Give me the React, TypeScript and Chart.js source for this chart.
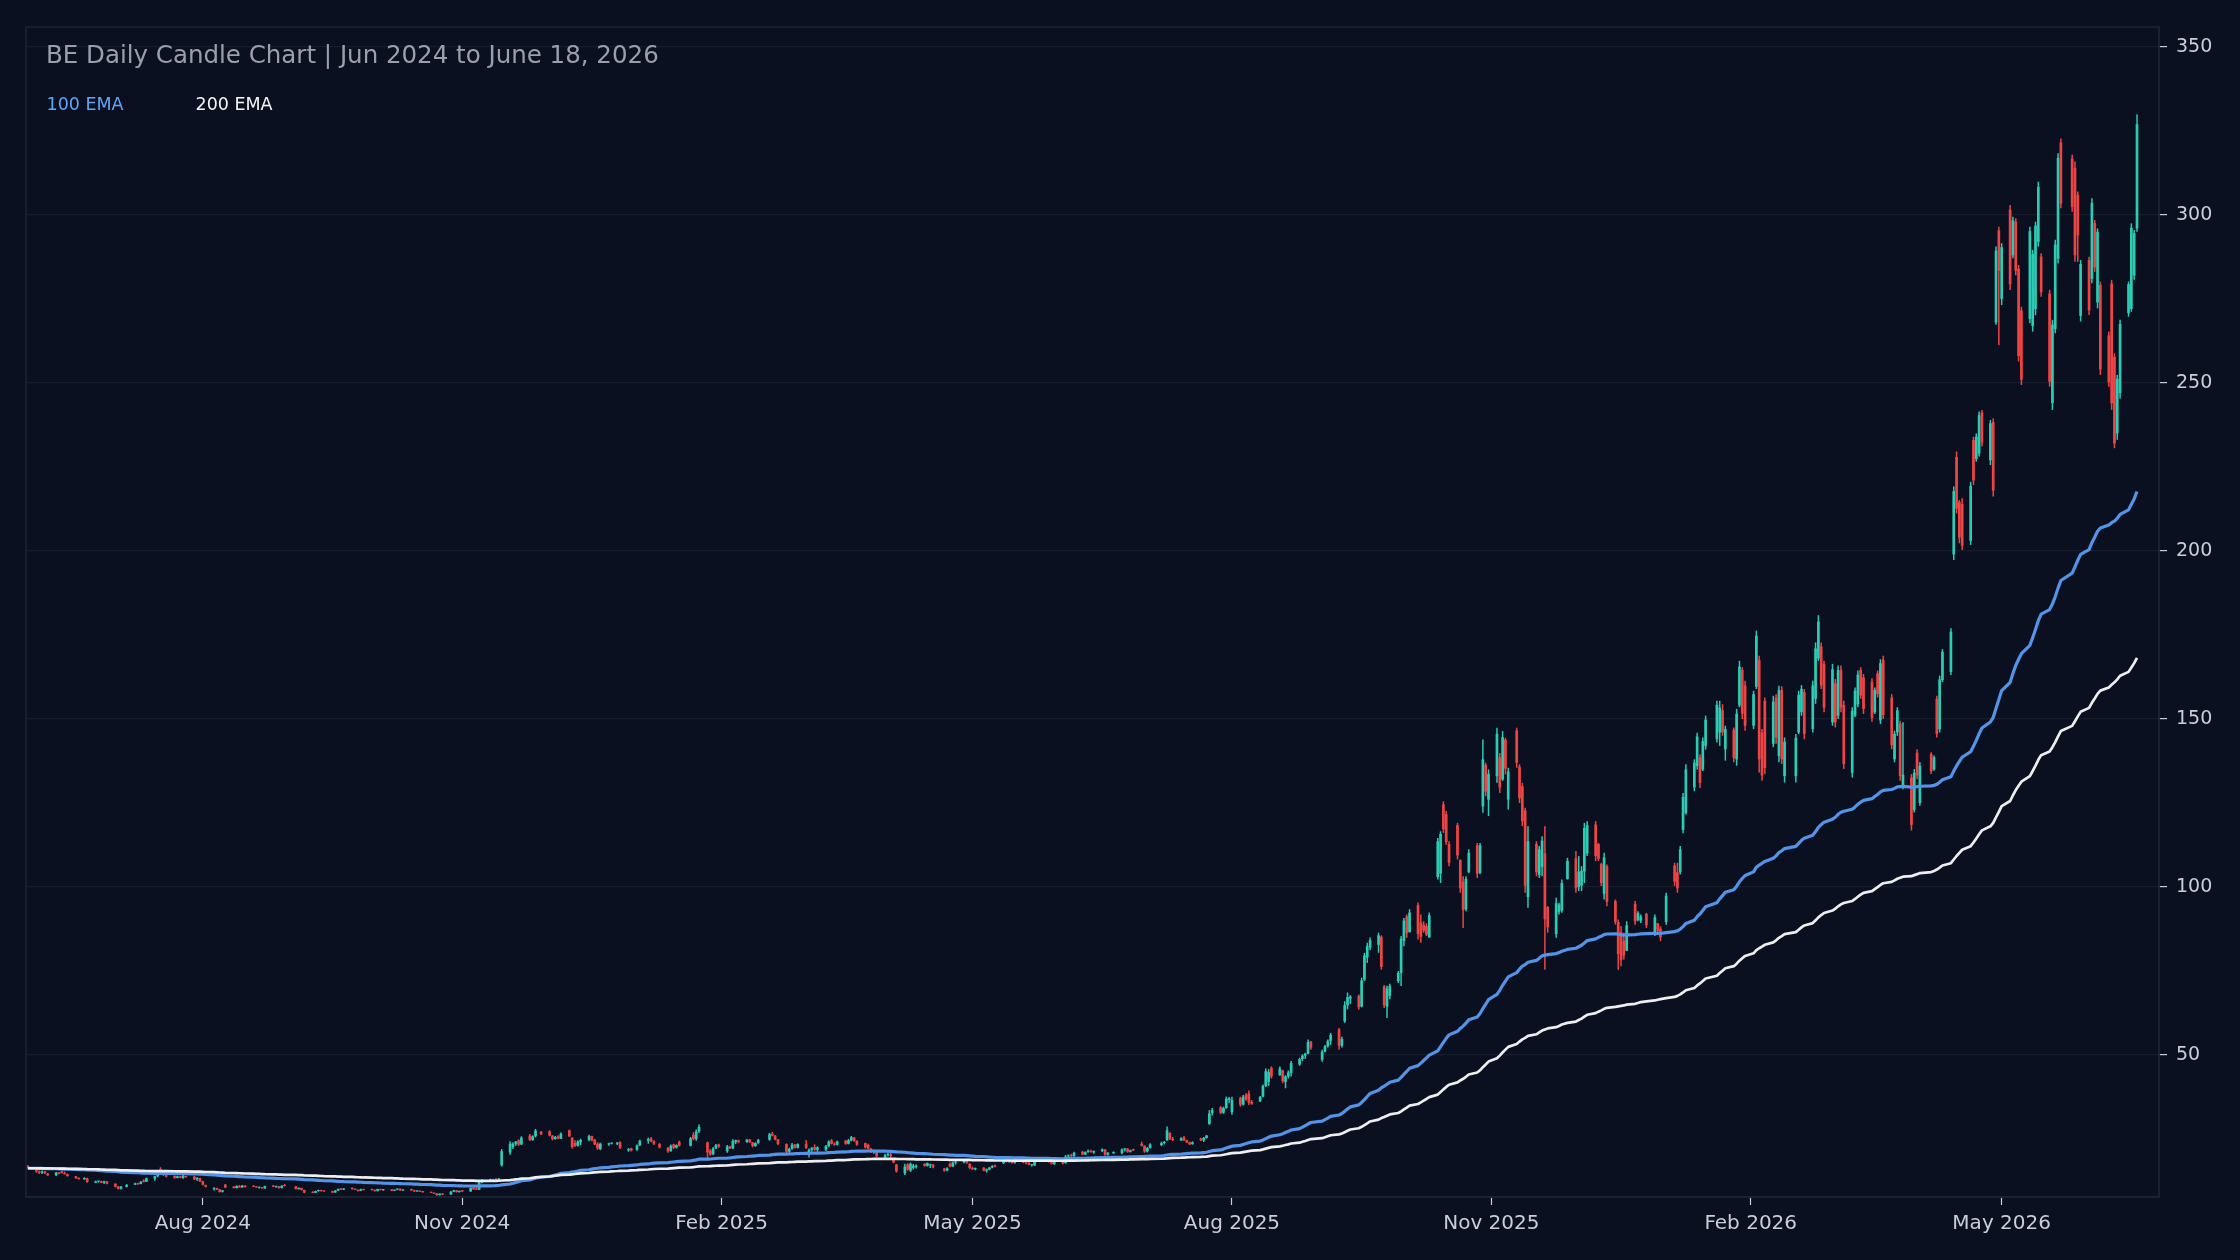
import { useEffect, useRef } from 'react'
import { Chart, registerables } from 'chart.js'

Chart.register(...registerables)

type Candle = [number, number, number, number] | null // open, high, low, close

const TITLE = 'BE Daily Candle Chart | Jun 2024 to June 18, 2026'
const EMA_SPANS = [100, 200]
const EMA_LABELS = ['100 EMA', '200 EMA']

const TICK_DATES = ['2024-08-01', '2024-11-01', '2025-02-01', '2025-05-01', '2025-08-01', '2025-11-01', '2026-02-01', '2026-05-01']
const TICK_LABELS = ['Aug 2024', 'Nov 2024', 'Feb 2025', 'May 2025', 'Aug 2025', 'Nov 2025', 'Feb 2026', 'May 2026']
const Y_TICKS = [50, 100, 150, 200, 250, 300, 350]

// one row per week, Mon..Fri, null = no session
const START_2024 = '2024-05-27'
const WEEKS_2024: Candle[][] = [
  [null, null, null, null, [16.9, 17.3, 16.0, 16.3]],
  [[16.2, 16.4, 15.0, 15.3], [15.3, 15.6, 14.6, 15.0], [15.0, 15.6, 14.6, 15.4], [15.3, 15.5, 14.6, 14.8], [14.7, 14.9, 14.0, 14.2]],
  [[14.2, 15.2, 14.0, 15.0], [15.0, 15.2, 14.5, 14.6], [15.4, 15.6, 14.7, 14.9], [14.9, 15.3, 14.4, 14.6], [14.5, 14.7, 13.8, 14.0]],
  [[13.9, 14.0, 13.2, 13.3], [13.4, 13.6, 12.9, 13.1], null, [13.0, 13.6, 12.9, 13.4], [13.3, 13.5, 12.0, 12.2]],
  [[12.0, 12.6, 11.9, 12.4], [12.3, 12.6, 12.0, 12.5], [12.4, 12.6, 11.9, 12.0], [12.0, 12.6, 11.6, 12.4], [12.4, 12.5, 11.5, 11.7]],
  // Jul
  [[11.7, 11.8, 10.6, 10.8], [10.8, 11.0, 10.0, 10.2], [10.2, 11.0, 10.0, 10.8], null, [10.8, 11.6, 10.6, 11.3]],
  [[11.4, 12.0, 11.3, 11.8], [11.8, 12.0, 11.4, 11.5], [11.6, 12.4, 11.5, 12.3], [12.6, 13.0, 12.1, 12.2], [12.3, 13.5, 12.2, 13.3]],
  [[13.2, 14.0, 12.6, 13.9], [13.9, 14.6, 13.6, 14.4], [16.0, 16.6, 15.2, 15.4], [14.8, 15.0, 14.0, 14.3], [14.2, 14.3, 13.6, 13.8]],
  [[14.0, 14.2, 13.2, 13.4], [13.4, 14.1, 13.3, 13.9], [13.9, 14.0, 13.3, 13.5], [13.4, 14.3, 13.2, 14.0], [14.0, 14.1, 13.5, 13.7]],
  [[13.8, 14.0, 12.8, 13.0], [13.0, 13.6, 12.6, 13.4], [13.3, 13.5, 12.2, 12.4], [12.4, 12.6, 11.2, 11.4], [11.3, 11.4, 10.6, 10.8]],
  // Aug
  [[10.2, 10.6, 9.7, 10.4], [10.4, 10.5, 9.8, 9.9], [10.0, 10.1, 9.1, 9.2], [9.3, 9.8, 9.1, 9.7], [11.4, 11.6, 10.4, 10.6]],
  [[10.8, 11.0, 10.3, 10.4], [10.4, 11.2, 10.3, 11.0], [11.0, 11.3, 10.5, 10.6], [10.6, 11.3, 10.5, 11.1], [11.1, 11.2, 10.6, 10.7]],
  [[11.0, 11.2, 10.7, 10.8], [10.8, 10.9, 10.5, 10.6], [10.5, 10.8, 10.3, 10.7], [10.6, 10.7, 10.2, 10.3], [10.3, 11.1, 10.2, 11.0]],
  [[11.1, 11.3, 10.7, 10.8], [10.8, 11.0, 10.5, 10.9], [10.9, 11.0, 10.3, 10.4], [10.4, 11.2, 10.3, 11.1], [11.3, 11.6, 10.9, 11.0]],
  // Sep
  [null, [10.9, 11.0, 10.0, 10.1], [10.1, 10.6, 10.0, 10.4], [10.4, 10.5, 9.7, 9.8], [9.8, 9.9, 8.9, 9.0]],
  [[9.2, 9.4, 8.9, 9.0], [9.0, 9.6, 8.9, 9.5], [9.5, 9.9, 9.3, 9.8], [9.8, 9.9, 9.4, 9.5], [9.5, 9.7, 9.3, 9.4]],
  [[9.5, 9.6, 8.9, 9.1], [9.1, 9.8, 9.0, 9.6], [9.6, 10.3, 9.5, 10.1], [10.3, 10.4, 9.8, 9.9], [9.9, 10.4, 9.8, 10.2]],
  [[10.5, 10.6, 10.0, 10.1], [10.1, 10.3, 9.8, 9.9], [9.9, 10.0, 9.4, 9.6], [9.6, 10.2, 9.5, 10.0], [10.0, 10.2, 9.7, 9.8]],
  [[10.0, 10.2, 9.7, 9.8], [9.8, 10.0, 9.4, 9.5], [9.5, 10.2, 9.4, 10.1], [10.1, 10.2, 9.7, 9.8], [9.8, 10.1, 9.6, 10.0]],
  // Oct
  [[10.0, 10.1, 9.5, 9.6], [9.6, 10.0, 9.5, 9.9], [9.9, 10.3, 9.8, 10.2], [10.2, 10.3, 9.6, 9.7], [9.7, 10.0, 9.5, 9.8]],
  [[10.1, 10.2, 9.6, 9.7], [9.7, 9.9, 9.3, 9.4], [9.4, 9.7, 9.3, 9.6], [9.6, 9.7, 9.2, 9.3], [9.3, 9.5, 9.0, 9.2]],
  [[9.2, 9.3, 8.9, 9.0], [9.0, 9.1, 8.6, 8.7], [8.8, 8.9, 8.1, 8.3], [8.3, 8.8, 8.2, 8.7], [8.7, 8.9, 8.3, 8.5]],
  [[8.5, 9.5, 8.4, 9.3], [9.3, 9.9, 9.2, 9.7], [9.7, 9.8, 9.1, 9.2], [9.2, 9.7, 9.1, 9.5], [9.5, 9.8, 9.2, 9.4]],
  // Nov
  [[9.4, 10.6, 9.3, 10.4], [10.4, 10.6, 9.9, 10.0], [10.2, 10.5, 9.8, 9.9], [9.9, 12.4, 9.8, 12.1], [12.1, 13.0, 11.8, 12.6]],
  [[12.6, 13.2, 12.3, 13.0], [13.0, 13.2, 12.4, 12.6], [13.0, 13.4, 12.5, 12.7], [12.8, 13.4, 12.6, 13.2], [17.2, 22.0, 16.8, 21.4]],
  [[21.0, 24.3, 20.3, 23.6], [22.6, 24.0, 22.0, 23.6], [23.6, 24.4, 23.0, 24.2], [24.6, 24.9, 23.0, 23.3], [23.4, 25.8, 23.2, 25.4]],
  [[26.0, 26.5, 24.4, 24.7], [24.7, 26.1, 24.5, 25.8], [25.8, 28.0, 25.5, 27.5], null, [27.2, 27.4, 26.2, 26.4]],
  // Dec
  [[27.3, 27.6, 25.8, 26.0], [26.0, 26.2, 24.6, 25.0], [25.0, 25.9, 24.8, 25.6], [25.8, 26.1, 24.9, 25.1], [25.1, 26.9, 25.0, 26.6]],
  [[27.6, 27.8, 25.6, 25.8], [25.4, 25.5, 22.2, 22.6], [23.8, 24.6, 22.6, 23.0], [23.0, 24.6, 22.8, 24.2], [24.0, 25.1, 23.2, 24.7]],
  [[24.7, 26.3, 24.3, 25.9], [25.9, 26.0, 24.3, 24.6], [24.8, 25.0, 23.2, 23.4], [23.6, 24.0, 21.8, 22.2], [22.0, 23.9, 21.7, 23.6]],
  [[23.4, 23.9, 23.0, 23.6], [23.6, 24.0, 23.4, 23.8], null, [23.6, 24.1, 23.2, 23.9], [24.0, 24.3, 22.0, 22.4]],
  [[21.6, 22.3, 21.2, 22.0], [22.2, 22.4, 21.3, 21.6], null, [21.8, 23.4, 21.5, 23.1], [23.1, 24.8, 22.9, 24.5]],
]

const START_2025 = '2025-01-06'
const WEEKS_2025: Candle[][] = [
  [[24.5, 25.4, 23.6, 25.0], [25.2, 25.6, 24.0, 24.3], [24.3, 24.6, 23.2, 23.6], null, [23.5, 23.8, 22.2, 22.5]],
  [[22.4, 22.6, 20.9, 21.3], [21.4, 23.4, 21.2, 23.0], [23.4, 23.6, 22.0, 22.4], [22.4, 23.4, 22.2, 23.2], [24.2, 24.5, 22.8, 23.0]],
  [null, [23.0, 25.6, 22.8, 25.2], [26.2, 27.0, 24.6, 25.0], [25.0, 27.8, 24.5, 27.2], [27.2, 29.3, 26.8, 28.6]],
  [[24.0, 24.2, 19.4, 21.0], [21.5, 22.0, 20.0, 20.4], [20.5, 22.6, 20.2, 22.2], [22.2, 23.5, 22.0, 23.2], [23.4, 23.6, 22.4, 22.8]],
  // Feb
  [[21.4, 23.2, 20.9, 22.8], [22.8, 23.0, 22.0, 22.2], [22.2, 24.9, 22.0, 24.4], [24.1, 24.8, 23.5, 24.6], [24.6, 24.8, 23.8, 24.1]],
  [[24.1, 25.0, 23.9, 24.8], [24.8, 25.0, 23.8, 24.0], [24.0, 24.1, 22.5, 22.9], [22.9, 24.0, 22.7, 23.8], [23.8, 25.0, 23.6, 24.7]],
  [null, [24.8, 26.8, 24.5, 26.4], [26.6, 27.1, 25.8, 26.0], [26.0, 26.2, 24.6, 24.8], [24.9, 25.0, 23.2, 23.5]],
  [[23.5, 23.7, 20.7, 21.2], [21.2, 22.4, 20.8, 22.0], [22.0, 23.8, 21.8, 23.3], [23.3, 23.5, 22.2, 22.4], [22.4, 23.7, 22.2, 23.5]],
  // Mar
  [[23.5, 24.7, 22.0, 22.4], [21.0, 22.2, 19.5, 21.8], [21.8, 22.6, 21.2, 22.3], [22.6, 23.4, 21.5, 21.8], [21.8, 22.8, 21.2, 22.5]],
  [[21.8, 23.2, 21.4, 22.9], [22.9, 24.6, 22.6, 24.2], [24.6, 25.0, 23.4, 23.6], [23.6, 24.0, 23.0, 23.3], [23.3, 24.5, 23.1, 24.3]],
  [[24.5, 24.7, 23.3, 23.6], [23.6, 25.0, 23.4, 24.6], [24.6, 25.9, 24.3, 25.5], [25.5, 25.6, 24.2, 24.4], [24.4, 24.6, 23.0, 23.3]],
  [[23.8, 23.9, 22.2, 22.5], [23.2, 23.6, 21.9, 22.1], [22.1, 22.3, 20.8, 21.1], [21.2, 21.8, 20.6, 21.5], [21.3, 21.4, 19.6, 19.9]],
  [[19.6, 20.6, 19.0, 20.2], [20.2, 21.0, 19.8, 20.6], [20.4, 20.8, 19.4, 19.9], [18.8, 19.2, 17.8, 18.0], [17.4, 17.6, 15.0, 15.4]],
  // Apr
  [[14.8, 17.6, 14.3, 16.8], [17.4, 17.8, 15.6, 15.9], [15.6, 18.0, 15.2, 17.6], [16.4, 17.6, 15.9, 17.1], [16.8, 17.4, 16.2, 17.0]],
  [[17.6, 17.8, 16.8, 17.0], [17.0, 18.0, 16.8, 17.8], [17.2, 17.6, 16.4, 17.4], [17.4, 17.5, 16.3, 16.6], null],
  [[16.2, 16.4, 15.3, 15.6], [15.6, 16.6, 15.4, 16.3], [17.6, 18.0, 16.6, 16.8], [16.8, 18.2, 16.7, 18.0], [18.0, 18.5, 17.4, 18.2]],
  [[18.0, 18.7, 17.8, 18.5], [18.6, 18.7, 17.6, 18.0], [17.6, 17.8, 16.0, 16.4], [16.4, 16.8, 15.8, 16.0], [16.0, 16.5, 15.7, 16.2]],
  // May
  [[16.4, 16.7, 15.4, 15.6], [15.5, 16.2, 15.0, 15.9], [15.9, 16.7, 15.7, 16.5], [16.5, 17.2, 16.3, 17.0], [17.0, 17.4, 16.6, 16.8]],
  [[17.8, 18.8, 17.6, 18.5], [18.5, 18.9, 18.0, 18.3], [18.3, 18.8, 17.9, 18.6], [18.4, 18.6, 17.6, 17.9], [17.9, 18.5, 17.6, 18.3]],
  [[18.2, 18.6, 17.8, 18.0], [18.0, 18.4, 17.5, 17.7], [17.8, 18.2, 17.2, 17.4], [17.2, 17.6, 16.8, 17.3], [17.1, 18.6, 17.0, 18.4]],
  [null, [18.6, 19.0, 18.2, 18.8], [18.8, 19.0, 18.0, 18.2], [18.1, 18.4, 17.4, 17.6], [17.6, 18.4, 17.3, 18.2]],
  // Jun
  [[18.2, 18.5, 17.4, 17.7], [17.8, 20.2, 17.7, 19.8], [19.8, 20.4, 19.4, 20.1], [20.1, 20.6, 19.6, 19.9], [19.9, 21.2, 19.7, 20.9]],
  [[21.2, 21.5, 20.2, 20.4], [20.4, 21.3, 20.2, 21.1], [21.1, 21.9, 20.9, 21.5], [21.4, 21.8, 20.9, 21.2], [21.0, 21.6, 20.6, 21.4]],
  [[21.4, 22.2, 21.1, 21.9], [21.9, 22.0, 20.0, 20.3], [20.3, 21.1, 20.0, 20.8], null, [20.8, 21.3, 20.5, 21.0]],
  [[20.8, 22.2, 20.5, 21.9], [21.9, 22.3, 21.3, 22.1], [22.1, 22.3, 20.9, 21.2], [21.2, 21.8, 21.0, 21.6], [22.0, 22.1, 21.4, 21.6]],
  [[23.6, 24.2, 22.8, 23.0], [23.0, 23.1, 20.9, 21.3], [21.3, 22.6, 21.0, 22.3], [22.3, 23.7, 22.2, 23.4], null],
  // Jul
  [[23.2, 24.2, 22.9, 23.8], [23.8, 24.4, 23.4, 24.1], [24.6, 28.7, 24.5, 27.6], [26.8, 27.0, 24.7, 25.1], [25.1, 25.6, 24.4, 24.7]],
  [[24.6, 25.5, 24.4, 25.2], [25.4, 25.9, 24.4, 24.6], [24.6, 24.8, 23.8, 24.0], [24.0, 24.2, 23.2, 23.4], [23.5, 24.3, 23.3, 24.0]],
  [[25.2, 25.4, 24.4, 24.6], [24.6, 25.6, 24.1, 25.3], [25.3, 26.2, 25.1, 26.0], [29.5, 33.6, 29.2, 32.6], [32.8, 34.2, 32.0, 33.6]],
  [[34.4, 34.8, 32.4, 32.8], [32.8, 34.6, 32.5, 34.2], [34.2, 37.6, 34.0, 37.0], [36.6, 37.5, 35.8, 37.1], [33.0, 37.6, 32.2, 36.6]],
  // Aug
  [[37.2, 37.6, 34.6, 35.2], [35.2, 38.1, 35.0, 37.6], [38.2, 38.6, 36.4, 36.8], [38.6, 39.4, 35.1, 35.8], [36.0, 36.6, 35.2, 35.5]],
  [[36.2, 37.8, 36.0, 37.5], [37.6, 41.2, 37.4, 40.8], [40.8, 46.0, 40.5, 45.2], [42.0, 45.8, 40.8, 45.0], [46.2, 46.6, 43.0, 43.6]],
  [[44.0, 46.6, 43.8, 46.0], [45.4, 45.6, 41.6, 42.2], [42.0, 44.0, 40.1, 43.6], [43.6, 45.4, 43.0, 44.8], [44.6, 48.2, 43.6, 47.6]],
  [[47.2, 49.2, 46.8, 48.8], [48.8, 50.2, 48.2, 49.8], [49.8, 50.7, 48.8, 50.4], [50.4, 54.6, 50.2, 53.9], [54.0, 54.2, 51.6, 52.2]],
  // Sep
  [null, [48.6, 51.6, 48.0, 51.0], [51.0, 53.0, 50.8, 52.6], [52.6, 54.6, 52.2, 54.2], [54.2, 56.6, 53.0, 56.0]],
  [[57.6, 58.0, 51.6, 52.8], [52.8, 55.4, 52.2, 54.8], [60.0, 66.0, 59.6, 64.8], [64.8, 68.6, 63.6, 67.2], [66.8, 67.8, 65.2, 67.4]],
  [[67.6, 68.0, 63.5, 64.2], [64.4, 73.0, 64.2, 72.2], [72.4, 80.4, 72.0, 79.6], [79.0, 83.4, 77.4, 82.4], [82.0, 85.0, 81.2, 84.2]],
  [[82.8, 86.4, 80.4, 85.6], [85.2, 85.6, 75.4, 76.2], [70.4, 70.8, 64.0, 64.8], [64.4, 70.6, 61.0, 69.8], [67.6, 71.2, 66.6, 70.6]],
  [[72.0, 75.0, 71.4, 74.4], [74.4, 85.4, 70.5, 84.6], [84.0, 90.8, 82.4, 90.0], [91.2, 91.8, 84.9, 86.2], [86.6, 93.4, 86.4, 92.4]],
  // Oct
  [[94.6, 95.4, 84.4, 86.0], [89.4, 91.8, 83.4, 85.2], [88.8, 89.8, 86.4, 87.0], [88.4, 89.2, 85.4, 85.8], [85.0, 92.4, 84.9, 91.6]],
  [[103.0, 114.6, 102.2, 113.6], [104.0, 116.6, 101.2, 115.8], [124.6, 125.5, 116.1, 117.2], [121.6, 122.6, 112.6, 113.4], [112.8, 113.6, 106.2, 107.2]],
  [[118.4, 119.1, 108.2, 109.4], [108.0, 108.2, 98.3, 99.6], [101.6, 103.2, 87.8, 93.2], [93.4, 103.2, 92.8, 102.4], [104.4, 111.2, 104.2, 110.2]],
  [[112.4, 113.1, 102.7, 104.0], [104.2, 113.1, 103.8, 112.4], [124.0, 143.9, 122.1, 138.0], [136.4, 137.0, 127.0, 128.4], [126.0, 135.0, 121.1, 133.6]],
  // Nov
  [[133.0, 147.4, 131.0, 145.6], [138.6, 139.9, 128.0, 129.6], [132.0, 146.4, 131.6, 144.6], [143.8, 144.4, 133.5, 135.2], [126.0, 135.5, 123.1, 134.4]],
  [[146.6, 147.4, 135.5, 137.0], [135.8, 136.5, 125.0, 126.4], [130.0, 131.0, 118.1, 119.6], [122.8, 123.6, 98.3, 100.4], [97.0, 118.1, 93.8, 113.6]],
  [[112.8, 113.6, 103.2, 104.4], [103.6, 112.2, 102.7, 111.2], [106.0, 115.1, 103.2, 113.8], [110.0, 118.1, 75.4, 90.4], [94.0, 94.3, 86.4, 88.0]],
  [[86.0, 96.8, 84.9, 95.2], [92.6, 95.3, 91.8, 94.8], [93.0, 102.2, 92.3, 101.2], null, [102.4, 108.7, 102.2, 107.8]],
  // Dec
  [[108.6, 110.7, 98.3, 99.6], [100.0, 109.2, 98.8, 104.6], [100.4, 106.2, 98.8, 104.8], [104.6, 119.1, 101.2, 117.6], [110.0, 119.6, 109.2, 118.4]],
  [[118.6, 119.6, 107.7, 109.2], [112.8, 113.1, 107.7, 108.4], [106.8, 107.2, 100.3, 101.2], [98.0, 110.2, 96.3, 108.8], [106.2, 106.7, 94.3, 95.6]],
  [[95.8, 96.3, 88.8, 89.6], [89.6, 90.3, 75.4, 80.0], [86.6, 88.3, 76.4, 78.2], [84.0, 86.4, 78.4, 79.6], [81.0, 89.8, 80.9, 88.6]],
  [[95.0, 95.8, 88.8, 89.8], [90.2, 92.8, 89.8, 92.2], [90.0, 91.8, 89.3, 91.2], null, [92.0, 92.3, 87.8, 88.6]],
  [[86.4, 91.8, 85.4, 91.0], [89.2, 89.3, 86.4, 87.0], [87.6, 88.3, 83.9, 85.0], null, [89.6, 98.3, 88.8, 97.4]],
]

const START_2026 = '2026-01-05'
const WEEKS_2026: Candle[][] = [
  [[106.4, 107.2, 100.3, 101.6], [104.4, 107.2, 98.3, 99.6], [104.4, 112.2, 103.7, 111.2], [117.0, 128.0, 116.0, 126.8], [122.0, 136.5, 121.6, 135.0]],
  [[129.6, 138.0, 128.5, 137.0], [136.0, 145.9, 135.0, 144.8], [138.6, 139.5, 129.5, 131.0], [135.0, 144.5, 134.5, 143.4], [142.0, 151.0, 140.9, 149.8]],
  [null, [144.0, 155.4, 143.0, 154.2], [146.0, 155.4, 142.0, 153.4], [152.6, 154.4, 145.0, 146.0], [141.0, 148.0, 137.6, 147.0]],
  [[146.8, 147.5, 137.1, 138.4], [138.0, 153.0, 136.1, 151.6], [154.0, 167.3, 153.5, 165.6], [164.6, 165.4, 150.0, 151.6], [160.0, 161.4, 146.5, 148.0]],
  // Feb
  [[148.0, 158.4, 147.0, 157.4], [159.6, 176.3, 158.9, 174.8], [167.6, 168.8, 134.1, 138.0], [146.0, 147.0, 131.6, 133.2], [155.4, 156.4, 133.6, 135.4]],
  [[142.6, 156.9, 141.6, 155.2], [156.4, 157.4, 142.6, 144.4], [139.0, 159.9, 137.1, 158.6], [158.6, 159.7, 136.6, 138.0], [133.0, 144.5, 131.1, 143.2]],
  [null, [133.0, 145.5, 131.1, 144.4], [146.0, 158.4, 145.5, 157.2], [152.0, 160.1, 151.0, 159.0], [158.0, 158.9, 144.0, 145.6]],
  [[147.0, 161.4, 146.0, 160.0], [156.0, 172.8, 154.5, 171.0], [168.0, 180.9, 167.3, 179.0], [171.6, 172.8, 158.9, 160.0], [166.4, 167.3, 152.0, 153.4]],
  // Mar
  [[149.0, 166.4, 148.0, 164.8], [160.6, 161.9, 147.5, 149.0], [151.0, 165.9, 150.0, 164.6], [164.6, 165.9, 152.0, 153.4], [154.2, 155.4, 135.1, 136.6]],
  [[134.0, 153.5, 132.6, 152.4], [151.0, 159.4, 150.5, 158.4], [154.4, 164.4, 153.5, 163.2], [164.6, 165.4, 156.0, 157.0], [162.4, 163.4, 151.5, 153.0]],
  [[161.0, 162.1, 149.2, 150.4], [152.0, 159.4, 151.5, 158.6], [163.6, 164.4, 156.4, 157.4], [149.6, 167.8, 148.5, 166.6], [167.6, 168.8, 150.0, 151.2]],
  [[156.4, 157.4, 141.0, 142.2], [138.0, 146.5, 137.1, 145.6], [146.0, 153.5, 145.0, 152.6], [148.6, 149.5, 131.6, 133.0], [130.0, 149.0, 129.1, 133.4]],
  [[132.6, 133.6, 116.8, 118.4], [123.0, 135.1, 122.2, 134.0], [140.0, 141.0, 132.1, 133.2], [125.0, 137.1, 124.2, 136.0], null],
  // Apr
  [[139.6, 140.1, 133.6, 134.4], [135.0, 139.1, 134.6, 138.6], [156.0, 156.9, 144.5, 145.6], [147.0, 162.9, 146.0, 161.8], [161.6, 170.8, 161.0, 170.0]],
  [[164.0, 177.0, 163.1, 176.0], [199.0, 219.2, 197.3, 217.8], [228.0, 229.6, 211.2, 212.6], [214.6, 215.2, 202.3, 204.0], [214.0, 215.7, 200.3, 201.6]],
  [[203.0, 220.6, 201.8, 219.4], [233.0, 234.0, 219.6, 221.0], [227.4, 235.0, 226.6, 234.0], [229.0, 241.5, 228.1, 240.4], [241.2, 242.0, 231.1, 232.2]],
  [[227.0, 239.0, 225.6, 238.0], [238.4, 239.5, 216.2, 218.0], [268.0, 290.6, 267.3, 289.4], [295.4, 296.5, 261.3, 283.4], [275.0, 291.6, 273.2, 290.4]],
  // May
  [[301.6, 303.0, 277.7, 279.4], [288.0, 299.5, 287.1, 298.4], [298.0, 299.0, 282.1, 283.4], [284.0, 285.1, 256.4, 258.0], [271.6, 272.7, 249.4, 251.0]],
  [[269.0, 296.5, 267.8, 295.2], [267.0, 289.6, 265.3, 288.4], [272.0, 298.0, 270.2, 296.8], [292.0, 309.9, 290.6, 308.4], [287.6, 288.6, 275.7, 277.0]],
  [[276.6, 277.7, 248.9, 250.4], [244.0, 268.8, 242.0, 267.4], [266.0, 292.6, 264.8, 291.2], [287.0, 318.4, 285.6, 317.0], [321.6, 322.8, 302.0, 303.4]],
  [null, [316.8, 317.9, 301.0, 302.4], [314.0, 315.9, 286.1, 288.0], [306.0, 307.0, 286.1, 294.0], [270.0, 286.6, 268.3, 285.4]],
  // Jun
  [[286.6, 287.6, 270.2, 271.6], [281.0, 305.0, 279.7, 303.6], [297.6, 298.5, 283.1, 284.4], [274.0, 296.0, 272.2, 295.0], [279.2, 280.2, 252.4, 254.0]],
  [[264.2, 265.3, 248.9, 250.2], [279.6, 280.7, 242.0, 244.0], [257.8, 258.8, 230.6, 232.0], [235.0, 252.4, 233.1, 251.2], [247.0, 268.8, 245.4, 267.6]],
  [[270.8, 280.2, 269.7, 279.4], [272.0, 297.5, 271.2, 296.2], [282.0, 295.5, 280.7, 294.6], [296.0, 330.0, 295.0, 327.0]],
]

const BG = '#0b1020'
const FRAME = '#1c2434'
const GRID = '#151c2c'
const TICK_TEXT = '#c9ced8'
const TITLE_TEXT = '#9aa0ab'
const UP = '#2bcbb4'
const DOWN = '#ef4444'
const EMA_COLORS = ['#5393e8', '#eeeeee']
const EMA_LABEL_COLORS = ['#60a5fa', '#f5f5f5']

const DAY = 86400000
const dayNum = (s: string) => Date.parse(s + 'T00:00:00Z') / DAY

function toCandles() {
  const out: { x: number; o: number; h: number; l: number; c: number }[] = []
  const years: [string, Candle[][]][] = [[START_2024, WEEKS_2024], [START_2025, WEEKS_2025], [START_2026, WEEKS_2026]]
  years.forEach(([start, weeks]) => {
    const monday = dayNum(start)
    weeks.forEach((week, w) => week.forEach((k, i) => {
      if (k) out.push({ x: monday + w * 7 + i, o: k[0], h: k[1], l: k[2], c: k[3] })
    }))
  })
  return out
}

function ema(values: number[], span: number) {
  const a = 2 / (span + 1)
  const out: number[] = []
  values.forEach((v, i) => out.push(i === 0 ? v : out[i - 1] + a * (v - out[i - 1])))
  return out
}

const framePlugin = {
  id: 'frame',
  beforeDraw(chart: Chart) {
    const { ctx, width, height } = chart
    ctx.save()
    ctx.fillStyle = BG
    ctx.fillRect(0, 0, width, height)
    ctx.restore()
  },
  afterDraw(chart: Chart) {
    const { ctx, chartArea: a } = chart
    ctx.save()
    ctx.strokeStyle = FRAME
    ctx.lineWidth = 1.5
    ctx.strokeRect(a.left, a.top, a.right - a.left, a.bottom - a.top)
    ctx.restore()
  },
}

export default function App() {
  const canvasRef = useRef<HTMLCanvasElement>(null)

  useEffect(() => {
    document.body.style.margin = '0'
    document.body.style.background = BG
    if (!canvasRef.current) return

    const candles = toCandles()
    const closes = candles.map(k => k.c)
    const colors = candles.map(k => (k.c >= k.o ? UP : DOWN))
    const tickDays = TICK_DATES.map(dayNum)
    const emaSets = EMA_SPANS.map((span, i) => {
      const vals = ema(closes, span)
      return {
        type: 'line' as const,
        label: EMA_LABELS[i],
        data: candles.map((k, j) => ({ x: k.x, y: vals[j] })),
        borderColor: EMA_COLORS[i],
        borderWidth: i === 0 ? 3.2 : 2.7,
        pointRadius: 0,
        tension: 0,
        borderJoinStyle: 'round' as const,
        order: i === 0 ? 1 : 0,
      }
    })

    const chart = new Chart(canvasRef.current, {
      type: 'bar',
      data: {
        datasets: [
          ...emaSets,
          {
            type: 'bar',
            label: 'wick',
            data: candles.map(k => ({ x: k.x, y: [k.l, k.h] })) as any,
            backgroundColor: colors,
            barThickness: 1.5,
            grouped: false,
            inflateAmount: 0,
            order: 3,
          },
          {
            type: 'bar',
            label: 'body',
            data: candles.map(k => ({ x: k.x, y: [Math.min(k.o, k.c), Math.max(k.o, k.c)] })) as any,
            backgroundColor: colors,
            barThickness: 2.7,
            minBarLength: 1,
            grouped: false,
            inflateAmount: 0,
            order: 2,
          },
        ],
      },
      options: {
        responsive: false,
        animation: false,
        devicePixelRatio: 1,
        layout: { padding: { left: 26, top: 27, right: 0, bottom: 0 } },
        plugins: { legend: { display: false }, tooltip: { enabled: false } },
        scales: {
          x: {
            type: 'linear',
            offset: false,
            min: dayNum('2024-05-31') - 0.7,
            max: dayNum('2026-06-18') + 7.8,
            grid: {
              display: true, offset: false, drawOnChartArea: false, drawTicks: true,
              tickLength: 8, tickColor: TICK_TEXT, tickWidth: 1.2
            },
            border: { display: true, color: FRAME, width: 1.5 },
            afterBuildTicks: axis => { axis.ticks = tickDays.map(v => ({ value: v })) },
            afterFit: scale => { scale.height = 63 },
            ticks: {
              color: TICK_TEXT,
              font: { family: 'DejaVu Sans', size: 20 },
              padding: 7,
              maxRotation: 0,
              autoSkip: false,
              callback: v => TICK_LABELS[tickDays.indexOf(Number(v))] ?? '',
            },
          },
          y: {
            type: 'linear',
            position: 'right',
            min: 7.74,
            max: 355.95,
            grid: { color: GRID, lineWidth: 1.2, drawTicks: true, tickLength: 8, tickColor: TICK_TEXT, tickWidth: 1.2 },
            border: { display: true, color: FRAME, width: 1.5 },
            afterBuildTicks: axis => { axis.ticks = Y_TICKS.map(v => ({ value: v })) },
            afterFit: scale => { scale.width = 81 },
            ticks: {
              color: TICK_TEXT,
              font: { family: 'DejaVu Sans', size: 19 },
              padding: 9,
            },
          },
        },
      },
      plugins: [framePlugin],
    })

    return () => { chart.destroy() }
  }, [])

  return (
    <div style={{ position: 'relative', width: 2240, height: 1260, background: BG, fontFamily: '"DejaVu Sans", sans-serif' }}>
      <canvas ref={canvasRef} width={2240} height={1260} style={{ display: 'block' }} />
      <div style={{ position: 'absolute', left: 46, top: 42.6, fontSize: 24.5, lineHeight: '24.5px', color: TITLE_TEXT, whiteSpace: 'nowrap' }}>
        {TITLE}
      </div>
      {EMA_LABELS.map((label, i) => (
        <div key={label} style={{
          position: 'absolute', left: i === 0 ? 46.5 : 195.5, top: 96.2, fontSize: 17.5, lineHeight: '17.5px',
          color: EMA_LABEL_COLORS[i], whiteSpace: 'nowrap'
        }}>{label}</div>
      ))}
    </div>
  )
}
